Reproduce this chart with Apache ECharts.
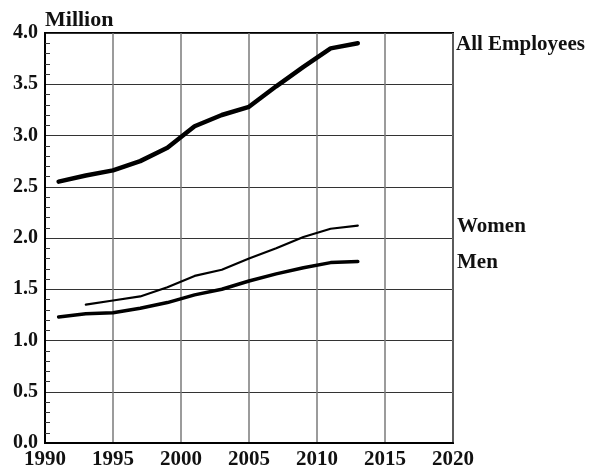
<!DOCTYPE html>
<html>
<head>
<meta charset="utf-8">
<script src="https://cdn.jsdelivr.net/npm/echarts@6/dist/echarts.min.js"></script>
<style>html,body{margin:0;padding:0;background:#fff;}#c{width:590px;height:473px;}</style>
</head>
<body>
<div id="c"></div>
<script>
var years = [1991, 1993, 1995, 1997, 1999, 2001, 2003, 2005, 2007, 2009, 2011, 2013];
var allEmployees = [2.55, 2.61, 2.66, 2.75, 2.88, 3.09, 3.20, 3.28, 3.48, 3.67, 3.85, 3.90];
var womenYears = [1993, 1995, 1997, 1999, 2001, 2003, 2005, 2007, 2009, 2011, 2013];
var women = [1.35, 1.39, 1.43, 1.52, 1.63, 1.69, 1.80, 1.90, 2.01, 2.09, 2.12];
var men = [1.23, 1.26, 1.27, 1.315, 1.37, 1.445, 1.50, 1.58, 1.65, 1.71, 1.76, 1.77];
var seriesNames = ['All Employees', 'Women', 'Men'];
var yAxisTitle = 'Million';

function pairs(xs, ys) { return xs.map(function (x, i) { return [x, ys[i]]; }); }

var font = 'Liberation Serif';
var labelFont = 'bold 21px "Liberation Serif"';
var chart = echarts.init(document.getElementById('c'), null, {renderer: 'canvas'});
var option = {
  backgroundColor: '#fff',
  animation: false,
  grid: {left: 45, right: 137, top: 33, bottom: 30, show: true, borderColor: '#000', borderWidth: 2, backgroundColor: 'transparent'},
  xAxis: {
    type: 'value', min: 1990, max: 2020, interval: 5,
    axisLine: {show: true, lineStyle: {color: '#000', width: 2}},
    axisTick: {show: false},
    axisLabel: {color: '#111', fontFamily: font, fontWeight: 'bold', fontSize: 21, margin: 6,
      formatter: function (v) { return String(v); }},
    splitLine: {show: true, lineStyle: {color: '#7a7a7a', width: 1.5}}
  },
  yAxis: {
    type: 'value', min: 0, max: 4, interval: 0.5,
    name: yAxisTitle, nameLocation: 'end', nameGap: 2,
    nameTextStyle: {color: '#111', fontFamily: font, fontWeight: 'bold', fontSize: 22, align: 'left', verticalAlign: 'bottom'},
    axisLine: {show: true, lineStyle: {color: '#000', width: 2}},
    axisTick: {show: false, inside: true},
    minorTick: {show: true, splitNumber: 5, length: 5, lineStyle: {color: '#333', width: 1}},
    axisLabel: {color: '#111', fontFamily: font, fontWeight: 'bold', fontSize: 20, margin: 7,
      formatter: function (v) { return v.toFixed(1); }},
    splitLine: {show: true, lineStyle: {color: '#333', width: 1.2}}
  },
  series: [
    {name: seriesNames[0], type: 'line', data: pairs(years, allEmployees), showSymbol: false,
     lineStyle: {color: '#000', width: 4.5, cap: 'round', join: 'round'}},
    {name: seriesNames[1], type: 'line', data: pairs(womenYears, women), showSymbol: false,
     lineStyle: {color: '#000', width: 2.2, cap: 'round', join: 'round'}},
    {name: seriesNames[2], type: 'line', data: pairs(years, men), showSymbol: false,
     lineStyle: {color: '#000', width: 3.5, cap: 'round', join: 'round'}}
  ],
  graphic: [
    {type: 'text', left: 456, top: 34, style: {text: seriesNames[0], fill: '#111', font: labelFont}},
    {type: 'text', left: 457, top: 216, style: {text: seriesNames[1], fill: '#111', font: labelFont}},
    {type: 'text', left: 457, top: 252, style: {text: seriesNames[2], fill: '#111', font: labelFont}}
  ]
};
chart.setOption(option);
</script>
</body>
</html>
